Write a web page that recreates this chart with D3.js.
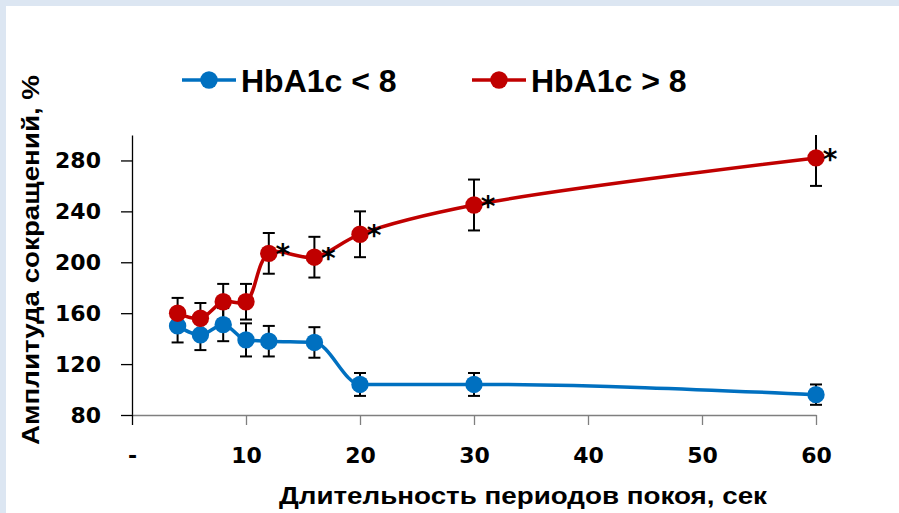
<!DOCTYPE html>
<html>
<head>
<meta charset="utf-8">
<script src="https://cdn.jsdelivr.net/npm/d3@7"></script>
<style>
  body { margin: 0; background: #dce6f2; }
  svg { display: block; font-family: "Liberation Sans", Arial, sans-serif; font-weight: bold; }
</style>
</head>
<body>
<script>
// data
var restPeriods = [4, 6, 8, 10, 12, 16, 20, 30, 60];
var lowMean  = [150, 143, 151, 139, 138, 137, 104, 104, 96];
var lowErr   = [13, 12, 13, 13, 12, 12, 9, 9, 8];
var highMean = [160, 156, 169, 169, 207, 204, 222, 245, 282];
var highErr  = [12, 12, 14, 14, 16, 16, 18, 20, 22];
var highSignif = [false, false, false, false, true, true, true, true, true];
var xTicks = [0, 10, 20, 30, 40, 50, 60];
var yTicks = [80, 120, 160, 200, 240, 280];
var seriesNames = ["HbA1c < 8", "HbA1c > 8"];
var xTitle = "Длительность периодов покоя, сек";
var yTitle = "Амплитуда сокращений, %";

var totalWidth = 899, totalHeight = 513;
var margin = {top: 135, right: 83, bottom: 98, left: 132};

var blue = "#0070c0", red = "#c00000";
var tickFont = "DejaVu Sans";

var xScale = d3.scaleLinear().domain([0, 60]).range([margin.left, totalWidth - margin.right]);
var yScale = d3.scaleLinear().domain([80, 300]).range([totalHeight - margin.bottom, margin.top]);

var svg = d3.select("body").append("svg")
	.attr("width", totalWidth)
	.attr("height", totalHeight);

// white panel, light blue strip on top and left
svg.append("rect")
	.attr("x", 6).attr("y", 6)
	.attr("width", totalWidth - 6).attr("height", totalHeight - 6)
	.style("fill", "#fff");

// y axis
var yAxis = d3.axisLeft(yScale)
	.tickValues(yTicks)
	.tickSizeInner(11)
	.tickSizeOuter(0)
	.tickPadding(20);

var gy = svg.append("g")
	.attr("transform", "translate(" + margin.left + ",0)")
	.call(yAxis);
gy.select(".domain").style("stroke", "#000").style("stroke-width", 1.3);
gy.selectAll(".tick line").style("stroke", "#000").style("stroke-width", 1.3);
gy.selectAll(".tick text")
	.style("font-size", "22px")
	.style("font-weight", "bold")
	.style("font-family", tickFont)
	.attr("fill", "#000");

// x axis
var xAxis = d3.axisBottom(xScale)
	.tickValues(xTicks)
	.tickSizeInner(10)
	.tickSizeOuter(0)
	.tickPadding(22)
	.tickFormat(d => d === 0 ? "-" : d);

var gx = svg.append("g")
	.attr("transform", "translate(0," + yScale(80) + ")")
	.call(xAxis);
gx.select(".domain").style("stroke", "#7f7f7f").style("stroke-width", 1.5);
gx.selectAll(".tick line").style("stroke", d => d === 0 ? "#000" : "#7f7f7f").style("stroke-width", 1.3);
gx.selectAll(".tick text")
	.style("font-size", "22px")
	.style("font-weight", "bold")
	.style("font-family", tickFont)
	.attr("fill", "#000");

// axis titles
svg.append("text")
	.attr("x", 523)
	.attr("y", 504)
	.attr("text-anchor", "middle")
	.attr("textLength", 488)
	.attr("lengthAdjust", "spacingAndGlyphs")
	.style("font-size", "24px")
	.text(xTitle);

svg.append("text")
	.attr("transform", "translate(39,260) rotate(-90)")
	.attr("text-anchor", "middle")
	.attr("textLength", 370)
	.attr("lengthAdjust", "spacingAndGlyphs")
	.style("font-size", "24px")
	.text(yTitle);

// series
var series = [
	{name: seriesNames[0], color: blue, mean: lowMean, err: lowErr, curve: d3.curveMonotoneX},
	{name: seriesNames[1], color: red, mean: highMean, err: highErr, curve: d3.curveCatmullRom.alpha(0.5)}
];

series.forEach(function(s) {
	var line = d3.line()
		.x(d => xScale(d[0]))
		.y(d => yScale(d[1]))
		.curve(s.curve);
	svg.append("path")
		.datum(restPeriods.map((x, i) => [x, s.mean[i]]))
		.attr("d", line)
		.style("fill", "none")
		.style("stroke", s.color)
		.style("stroke-width", 3.5);
});

// error bars (clipped at top of plot area)
var yMax = yScale.domain()[1];
series.forEach(function(s) {
	var g = svg.append("g").style("stroke", "#000").style("stroke-width", 2);
	restPeriods.forEach(function(x, i) {
		var cx = xScale(x);
		var hi = s.mean[i] + s.err[i], lo = s.mean[i] - s.err[i];
		var top = Math.min(hi, yMax);
		g.append("line").attr("x1", cx).attr("x2", cx)
			.attr("y1", yScale(top)).attr("y2", yScale(lo));
		g.append("line").attr("x1", cx - 6).attr("x2", cx + 6)
			.attr("y1", yScale(lo)).attr("y2", yScale(lo));
		if (hi <= yMax) {
			g.append("line").attr("x1", cx - 6).attr("x2", cx + 6)
				.attr("y1", yScale(hi)).attr("y2", yScale(hi));
		}
	});
});

// markers
series.forEach(function(s) {
	svg.append("g")
		.selectAll("circle")
		.data(restPeriods)
		.enter().append("circle")
		.attr("cx", x => xScale(x))
		.attr("cy", (x, i) => yScale(s.mean[i]))
		.attr("r", 8.7)
		.style("fill", s.color);
});

// significance asterisks
svg.append("g")
	.selectAll("text")
	.data(restPeriods.filter((x, i) => highSignif[i]))
	.enter().append("text")
	.attr("x", x => xScale(x) + 14)
	.attr("y", x => yScale(highMean[restPeriods.indexOf(x)]) + 11)
	.attr("text-anchor", "middle")
	.style("font-family", tickFont)
	.style("font-size", "28px")
	.text("*");

// legend
var legend = svg.append("g");
series.forEach(function(s, i) {
	var lx = 182 + i * 290;
	var ly = 80;
	legend.append("line")
		.attr("x1", lx).attr("x2", lx + 54)
		.attr("y1", ly).attr("y2", ly)
		.style("stroke", s.color).style("stroke-width", 3.5);
	legend.append("circle")
		.attr("cx", lx + 27).attr("cy", ly).attr("r", 8.7)
		.style("fill", s.color);
	legend.append("text")
		.attr("x", lx + 59).attr("y", ly + 12)
		.style("font-size", "32px")
		.text(s.name);
});
</script>
</body>
</html>
